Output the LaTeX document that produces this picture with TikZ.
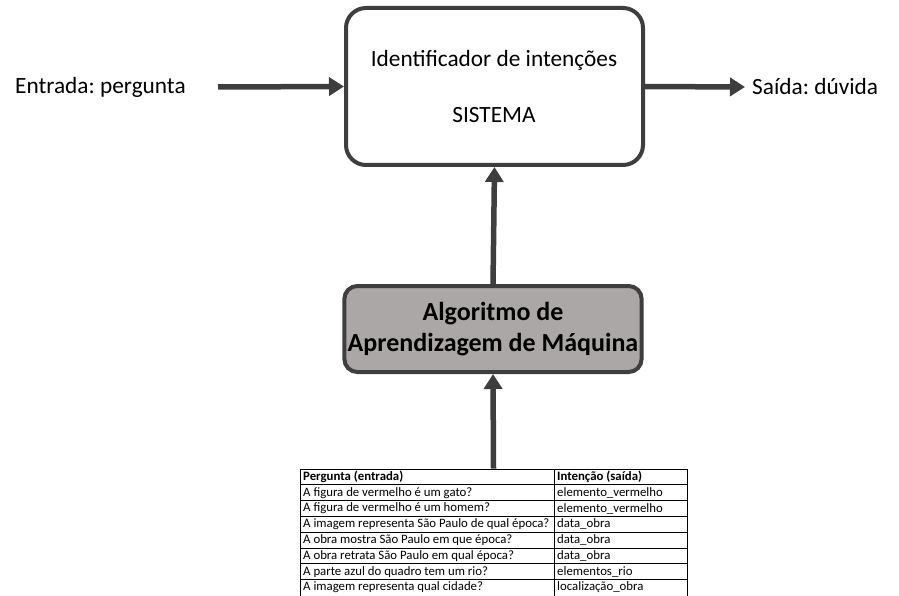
\documentclass[tikz,border=0pt]{standalone}
\usepackage{fontspec}
\setmainfont{Carlito}
\frenchspacing
\usetikzlibrary{%
        arrows.meta,
        positioning
    }
\definecolor{borda}{RGB}{62, 62, 62}
\definecolor{cinza}{RGB}{171, 167, 166}
\tikzset{%
    seta/.style={-{Triangle[length=15pt, width=18pt]}, line width=5.5pt, borda},
    caixa/.style={draw=borda, line width=4pt, minimum width=297pt},
    rotulo/.style={font=\fontsize{23.3}{28}\selectfont, inner sep=0pt},
    celula/.style={anchor=west, inner sep=0pt, font=\fontsize{12.8}{15}\selectfont}
}

\begin{document}
\begin{tikzpicture}[x=1pt, y=-1pt]
    \useasboundingbox (0, 0) rectangle (899, 596);

    % Sistema
    \node[caixa, rounded corners=20pt, fill=white, minimum height=157pt]
        (sistema) at (494.5, 86.5) {};
    \node[rotulo] (ident) at (494, 60) {Identificador de intenções};
    \node[rotulo] (sigla) at (494, 115) {SISTEMA};

    % Entrada e saida
    \node[rotulo, anchor=west] (entrada) at (15, 87) {Entrada: pergunta};
    \node[rotulo, anchor=west] (saida) at (752, 87) {Saída: dúvida};
    \coordinate (inicio) at (218, 87);
    \coordinate (fim) at (745, 87);
    \draw[seta] (inicio) -- (sistema.west);
    \draw[seta] (sistema.east) -- (fim);

    % Algoritmo
    \node[caixa, rounded corners=13pt, fill=cinza, minimum height=86pt,
          align=center, font=\bfseries\fontsize{26}{31}\selectfont]
        (algoritmo) at (493, 329) {Algoritmo de\\Aprendizagem de Máquina};
    \draw[seta] (algoritmo.north) -- (sistema.south);

    % Tabela de treino
    \node[draw, line width=0.8pt, minimum width=387pt, minimum height=127pt,
          inner sep=0pt] (tabela) at (493.5, 532.5) {};
    \draw[seta] (tabela.north) -- (algoritmo.south);
    \foreach \i in {1, ..., 7}{%
        \draw[line width=0.8pt] (300, 469 + \i*15.8) -- ++(387, 0);
    };
    \draw[line width=0.8pt] (554, 469) -- (554, 596);
    \foreach \pergunta/\intencao [count=\i from 0] in {%
        {\textbf{Pergunta (entrada)}}/{\textbf{Intenção (saída)}},
        {A figura de vermelho é um gato?}/{elemento\_vermelho},
        {A figura de vermelho é um homem?}/{elemento\_vermelho},
        {A imagem representa São Paulo de qual época?}/{data\_obra},
        {A obra mostra São Paulo em que época?}/{data\_obra},
        {A obra retrata São Paulo em qual época?}/{data\_obra},
        {A parte azul do quadro tem um rio?}/{elementos\_rio},
        {A imagem representa qual cidade?}/{localização\_obra}}{%
        \node[celula] at (303, 477 + \i*15.8) {\pergunta};
        \node[celula] at (557, 477 + \i*15.8) {\intencao};
    };

\end{tikzpicture}
\end{document}
